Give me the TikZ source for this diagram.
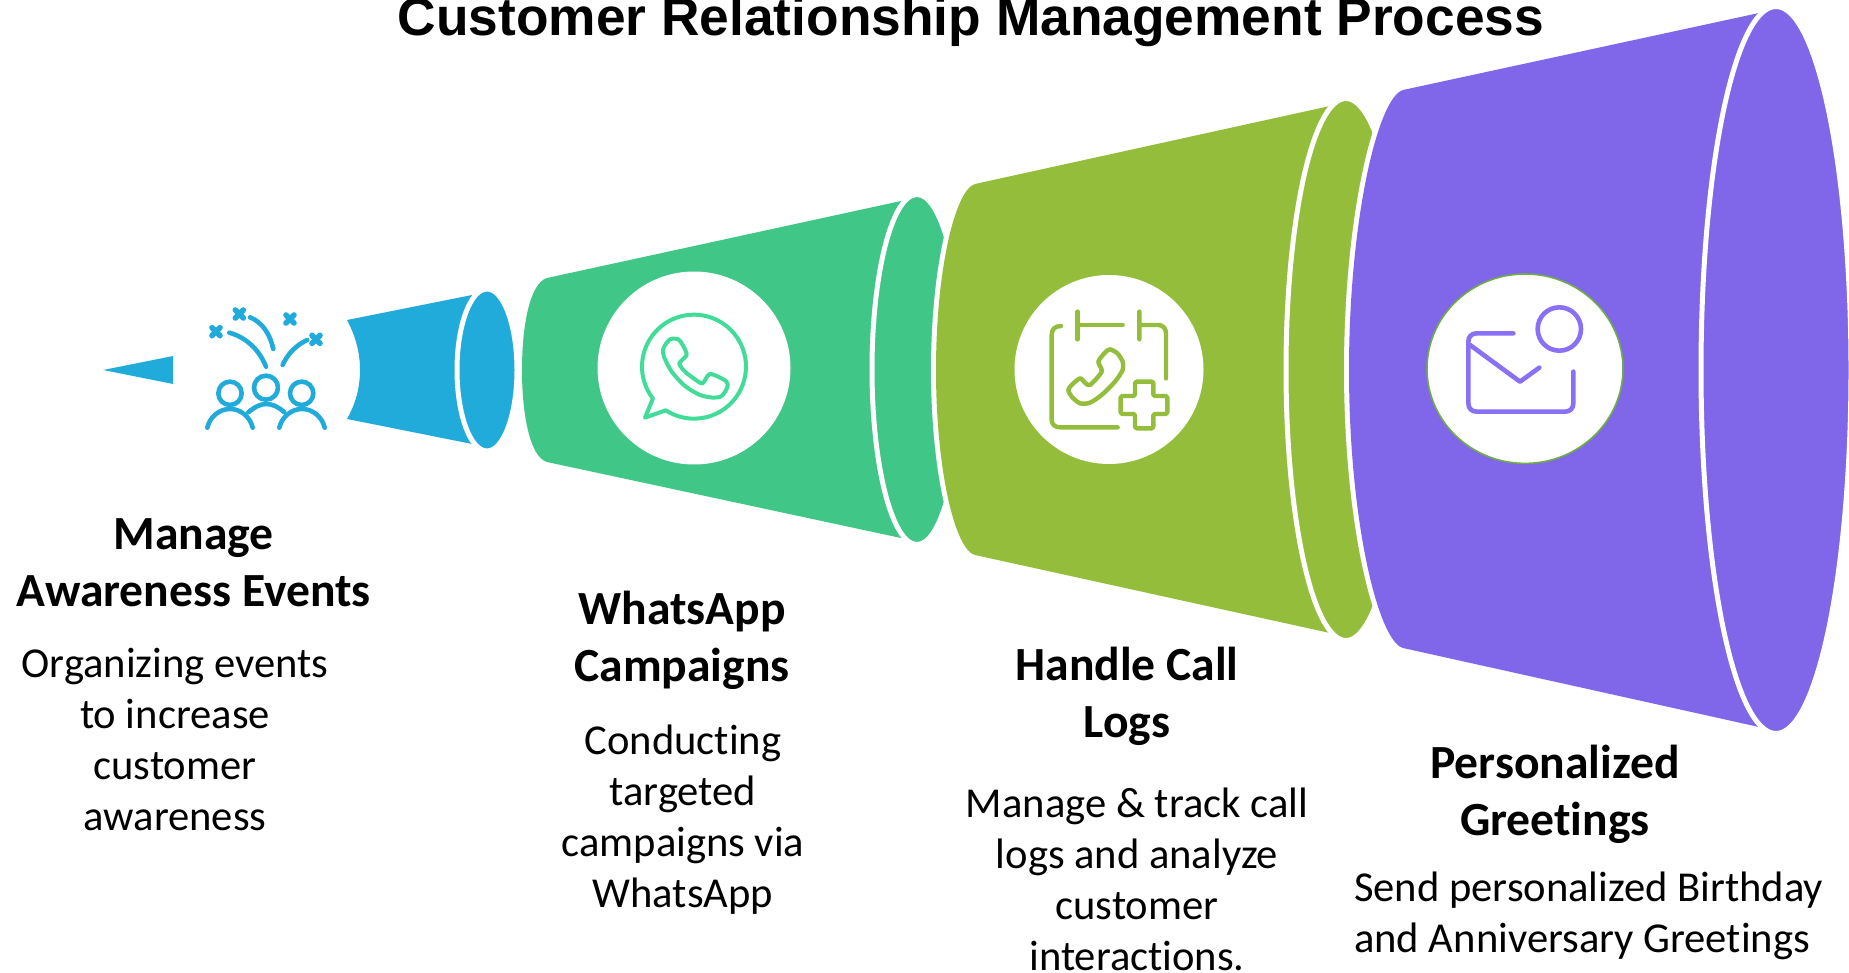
\documentclass[tikz,border=0pt]{standalone}
\usepackage{fontspec}
\setmainfont{Carlito}[Ligatures=NoCommon]
\newfontfamily\titlefont{Liberation Sans}
\definecolor{cblue}{HTML}{21ABDA}
\definecolor{cgreen}{HTML}{40C686}
\definecolor{colive}{HTML}{93BD3B}
\definecolor{cpurple}{HTML}{8066E8}
\definecolor{cwa}{HTML}{40DC98}
\definecolor{cenv}{HTML}{8A70F5}
\definecolor{cring}{HTML}{70AD47}
\tikzset{
  conebody/.style={fill=#1,line join=round,preaction={draw=white,line width=10pt}},
  coneend/.style={draw=white,line width=5pt,fill=#1},
  disc/.style={fill=white},
  glyph/.style={draw=#1,line width=4.6pt,line cap=round,line join=round},
  titletext/.style={font=\titlefont\bfseries\fontsize{53.3}{60}\selectfont,inner sep=0pt,anchor=base},
  headtext/.style={font=\bfseries\fontsize{47.6}{57}\selectfont,align=center,inner sep=0pt,anchor=north},
  bodytext/.style={font=\fontsize{42.6}{51}\selectfont,align=center,inner sep=0pt,anchor=north},
  bodyleft/.style={font=\fontsize{42.6}{51}\selectfont,align=left,inner sep=0pt,anchor=north west},
}
\begin{document}
\begin{tikzpicture}[x=1pt,y=-1pt]
\useasboundingbox (0,0) rectangle (1849,973);
% blue
\fill[cblue] (103,370) -- (173,356) -- (173,384) -- cycle;
\path[fill=cblue] (347,320) -- (472,295) -- (472,444) -- (347,419) .. controls (356,403) and (360,387) .. (360,370) .. controls (360,353) and (356,337) .. (347,320) -- cycle;
\draw[coneend=cblue] (487,370) ellipse [x radius=30,y radius=81];
% green
\path[conebody=cgreen] (547,278) -- (901,201) -- (901,538) -- (547,462) .. controls (530,457) and (522,415) .. (522,370) .. controls (522,325) and (530,283) .. (547,278) -- cycle;
\draw[coneend=cgreen] (917,369.5) ellipse [x radius=45,y radius=175];
\fill[disc] (694,368) circle [radius=96.5];
% olive
\path[conebody=colive] (975,184) -- (1330,106) -- (1330,633) -- (975,555) .. controls (955,550) and (936,470) .. (936,370) .. controls (936,270) and (955,190) .. (975,184) -- cycle;
\draw[coneend=colive] (1346,369.5) ellipse [x radius=60,y radius=271];
\fill[disc] (1109,369.5) circle [radius=94.5];
% purple
\path[conebody=cpurple] (1403,90) -- (1759,13) -- (1759,727) -- (1403,648) .. controls (1378,641) and (1349,520) .. (1349,370) .. controls (1349,220) and (1378,97) .. (1403,90) -- cycle;
\draw[coneend=cpurple] (1776,370) ellipse [x radius=75,y radius=363.5];
\draw[draw=cring,line width=1.6pt,fill=white] (1525,368.7) ellipse [x radius=98,y radius=94.7];
% people icon
\begin{scope}[shift={(190,295)},x=0.3333pt,y=-0.3333pt]
  \draw[glyph=cblue] (120,295) circle [radius=35];
  \draw[glyph=cblue] (228,278) circle [radius=36];
  \draw[glyph=cblue] (335,295) circle [radius=35];
  \draw[glyph=cblue] (52,398) .. controls (60,365) and (88,342) .. (120,342) .. controls (152,342) and (180,365) .. (188,398);
  \draw[glyph=cblue] (268,398) .. controls (276,365) and (304,342) .. (336,342) .. controls (368,342) and (396,365) .. (404,398);
  \draw[glyph=cblue] (175,352) .. controls (195,335) and (212,327) .. (229,327) .. controls (246,327) and (265,335) .. (283,352);
  \draw[glyph=cblue] (118,113) .. controls (170,128) and (208,165) .. (228,215);
  \draw[glyph=cblue] (180,67) .. controls (218,82) and (240,118) .. (250,162);
  \draw[glyph=cblue] (352,135) .. controls (318,150) and (292,178) .. (278,210);
  \foreach \px/\py in {78/110,148/57,300/72,378/133}{
    \draw[glyph=cblue,line width=5.6pt] (\px-12,\py-12) -- (\px+12,\py+12) (\px-12,\py+12) -- (\px+12,\py-12);
  }
\end{scope}
% whatsapp icon
\begin{scope}[shift={(620,300)},x=0.3333pt,y=-0.3333pt]
  \draw[glyph=cwa,line width=4pt] plot[domain=122.9:-217.8,samples=70] ({222+156*cos(\x)},{200+156*sin(\x)}) -- (75,353) -- cycle;
  \draw[glyph=cwa,line width=4pt] plot[smooth cycle,tension=0.45] coordinates {(150,118) (175,118) (188,135) (200,165) (178,190) (195,215) (225,238) (248,250) (270,222) (318,243) (322,262) (305,288) (280,293) (240,285) (195,258) (155,215) (132,170) (130,145)};
\end{scope}
% calendar phone icon
\begin{scope}[shift={(1030,290)},x=0.3333pt,y=-0.3333pt]
  \draw[glyph=colive,line width=4.4pt] (93,108) .. controls (75,108) and (65,118) .. (65,135) -- (65,390) .. controls (65,404) and (76,412) .. (90,412) -- (263,412);
  \draw[glyph=colive,line width=4.4pt] (143,65) -- (143,148) (143,105) -- (278,105);
  \draw[glyph=colive,line width=4.4pt] (328,65) -- (328,148) (328,105) -- (385,105) .. controls (399,105) and (408,116) .. (408,130) -- (408,265);
  \draw[glyph=colive,line width=4.4pt] plot[smooth cycle,tension=0.45] coordinates {(240,178) (262,190) (278,215) (278,240) (255,275) (215,315) (180,338) (150,340) (125,320) (115,300) (125,285) (150,265) (165,278) (180,285) (215,245) (205,215) (225,188)};
  \draw[glyph=colive,line width=4.4pt,rounded corners=1.5pt] (315,275) -- (370,275) -- (370,318) -- (412,318) -- (412,372) -- (370,372) -- (370,415) -- (315,415) -- (315,372) -- (272,372) -- (272,318) -- (315,318) -- cycle;
\end{scope}
% envelope icon
\begin{scope}[shift={(1410,270)},x=0.3333pt,y=-0.3333pt]
  \draw[glyph=cenv,line width=4.6pt] (310,190) -- (200,190) .. controls (185,190) and (175,200) .. (175,215) -- (175,400) .. controls (175,415) and (185,425) .. (200,425) -- (465,425) .. controls (480,425) and (490,415) .. (490,400) -- (490,305);
  \draw[glyph=cenv,line width=4.6pt] (180,225) -- (330,335) -- (388,293);
  \draw[glyph=cenv,line width=4.6pt] (448,177) circle [radius=65];
\end{scope}
% text
\node[titletext] (title) at (971,35.5) {Customer Relationship Management Process};
\node[headtext] (h1) at (193.5,518.5) {Manage\\Awareness Events};
\node[bodytext] (b1) at (175,647.5) {Organizing events\\to increase\\customer\\awareness};
\node[headtext] (h2) at (682,591) {WhatsApp\\Campaigns};
\node[bodytext] (b2) at (683,725) {Conducting\\targeted\\campaigns via\\WhatsApp};
\node[headtext] (h3) at (1127,646.5) {Handle Call\\Logs};
\node[bodytext] (b3) at (1137,787.5) {Manage \& track call\\logs and analyze\\customer\\interactions.};
\node[headtext] (h4) at (1555,744.5) {Personalized\\Greetings};
\node[bodyleft] (b4) at (1354,871.5) {Send personalized Birthday\\and Anniversary Greetings};
\end{tikzpicture}
\end{document}
